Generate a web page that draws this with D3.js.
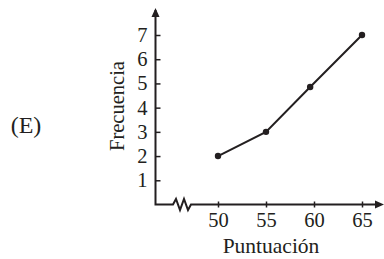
<!DOCTYPE html>
<html>
<head>
<meta charset="utf-8">
<script src="https://cdn.jsdelivr.net/npm/d3@7"></script>
<style>
  body { margin: 0; background: #fff; }
  text { font-family: "Liberation Serif", "Times New Roman", serif; fill: #231f20; }
</style>
</head>
<body>
<svg id="chart" width="384" height="259"></svg>
<script>
// data
var scores = [50, 55, 59.6, 65]
var freqs  = [2, 3, 4.85, 7]
var xTicks = [50, 55, 60, 65]
var yTicks = [1, 2, 3, 4, 5, 6, 7]

var ink = "#231f20"
var svg = d3.select("#chart")

var x0 = 155.5, y0 = 204.5
var xScale = d3.scaleLinear().domain([50, 65]).range([218, 362])
var yScale = d3.scaleLinear().domain([0, 7]).range([y0, 35])

// y axis ticks + labels
var yAxis = d3.axisLeft(yScale).tickValues(yTicks).tickFormat(d3.format("d"))
    .tickSizeInner(-5).tickSizeOuter(0).tickPadding(8)
var gy = svg.append("g").attr("transform", "translate(" + x0 + ",0)").call(yAxis)
gy.select(".domain").remove()
gy.selectAll("line").attr("stroke", ink).attr("stroke-width", 1.5)
gy.selectAll("text").attr("font-size", 20.5).attr("font-family", "Liberation Serif").attr("fill", ink)

// x axis ticks + labels
var xAxis = d3.axisBottom(xScale).tickValues(xTicks).tickFormat(d3.format("d"))
    .tickSizeInner(3).tickSizeOuter(0).tickPadding(5)
var gx = svg.append("g").attr("transform", "translate(0," + y0 + ")").call(xAxis)
gx.select(".domain").remove()
gx.selectAll("line").attr("y1", -3).attr("stroke", ink).attr("stroke-width", 1.5)
gx.selectAll("text").attr("font-size", 20.5).attr("font-family", "Liberation Serif").attr("fill", ink)

// axis lines with the break
svg.append("path")
    .attr("d", "M" + x0 + ",10 L" + x0 + "," + y0 + " L173," + y0 +
        " L176,199 L180,210 L184,199 L188,210 L191," + y0 + " L378," + y0)
    .attr("fill", "none").attr("stroke", ink).attr("stroke-width", 2)

// arrow heads
svg.append("path").attr("d", "M" + x0 + ",8 L" + (x0 - 4) + ",17 L" + (x0 + 4) + ",17 Z").attr("fill", ink)
svg.append("path").attr("d", "M384," + y0 + " L375," + (y0 - 4) + " L375," + (y0 + 4) + " Z").attr("fill", ink)

// polygon line
var pts = scores.map(function(s, i){ return [s, freqs[i]] })
var line = d3.line().x(function(d){ return xScale(d[0]) }).y(function(d){ return yScale(d[1]) })
svg.append("path").datum(pts).attr("d", line).attr("fill", "none").attr("stroke", ink).attr("stroke-width", 2)

svg.selectAll("circle.pt")
    .data(pts)
    .enter()
        .append("circle")
        .attr("class", "pt")
        .attr("cx", function(d){ return xScale(d[0]) })
        .attr("cy", function(d){ return yScale(d[1]) })
        .attr("r", 3.2)
        .attr("fill", ink)

// labels
svg.append("text").attr("x", 271).attr("y", 253).attr("text-anchor", "middle")
    .attr("font-size", 21.5).text("Puntuación")
svg.append("text").attr("transform", "translate(124,106) rotate(-90)").attr("text-anchor", "middle")
    .attr("font-size", 20.5).text("Frecuencia")
svg.append("text").attr("x", 26).attr("y", 133).attr("text-anchor", "middle")
    .attr("font-size", 24).text("(E)")
</script>
</body>
</html>
